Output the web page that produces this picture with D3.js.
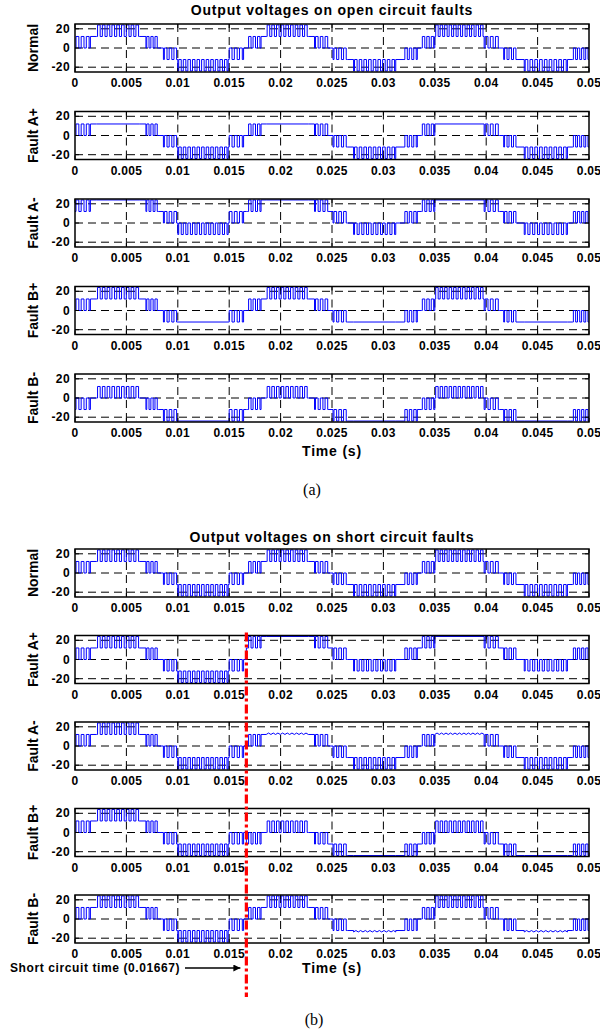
<!DOCTYPE html>
<html><head><meta charset="utf-8">
<script src="https://cdn.jsdelivr.net/npm/d3@7"></script>
<style>body{margin:0;background:#fff}</style>
</head><body>
<svg id="c" width="600" height="1034"></svg>
<script>
// ---------- data ----------
const timeTicks = [0,0.005,0.01,0.015,0.02,0.025,0.03,0.035,0.04,0.045,0.05];
const timeTickLabels = ["0","0.005","0.01","0.015","0.02","0.025","0.03","0.035","0.04","0.045","0.05"];
const voltTicks = [-20,0,20];
const voltTickLabels = ["-20","0","20"];
const voltDomain = [-25,25];
const timeDomain = [0,0.05];
// band boundaries (ms) shared by all traces
const bandEdgesMs = [0,1.5,2.1,6.3,6.9,8.1,8.6,10.0,14.9,16.4,16.67,16.8,18.1,18.6,22.7,23.3,24.7,25.1,26.5,27.1,31.2,32.0,33.3,33.7,35.0,39.8,41.3,41.7,43.0,43.7,47.9,48.4,50];
const pulsePeriodMs = 0.45;
// level code per band: "a" flat, "a/b" switching between a and b, "~a/b" small ripple
const normal   = ["0/12","12","12/24","12","0/12","0","-12/0","-24/-12","-12/0","0","0","0/12","12","12/24","12","0/12","0","-12/0","-12","-24/-12","-12","-12/0","0","0/12","12/24","0/12","0","-12/0","-12","-24/-12","-12","-12/0"];
const openAp   = ["0/12","12","12","12","0/12","0","-12/0","-24/-12","-12/0","0","0","0/12","12","12","12","0/12","0","-12/0","-12","-24/-12","-12","-12/0","0","0/12","12","0/12","0","-12/0","-12","-24/-12","-12","-12/0"];
const openAm   = ["12/24","24","24","24","12/24","12","0/12","-12/0","0/12","12","12","12/24","24","24","24","12/24","12","0/12","0","-12/0","0","0/12","12","12/24","24","12/24","12","0/12","0","-12/0","0","0/12"];
const openBp   = ["0/12","12","12/24","12","0/12","0","-12/0","-12","-12/0","0","0","0/12","12","12/24","12","0/12","0","-12/0","-12","-12","-12","-12/0","0","0/12","12/24","0/12","0","-12/0","-12","-12","-12","-12/0"];
const openBm   = ["-12/0","0","0/12","0","-12/0","-12","-24/-12","-24","-24/-12","-12","-12","-12/0","0","0/12","0","-12/0","-12","-24/-12","-24","-24","-24","-24/-12","-12","-12/0","0/12","-12/0","-12","-24/-12","-24","-24","-24","-24/-12"];
const shortAp  = ["0/12","12","12/24","12","0/12","0","-12/0","-24/-12","-12/0","0","12","12/24","24","24","24","12/24","12","0/12","0","-12/0","0","0/12","12","12/24","24","12/24","12","0/12","0","-12/0","0","0/12"];
const shortAm  = ["0/12","12","12/24","12","0/12","0","-12/0","-24/-12","-12/0","0","0","0/12","12","~12/13.5","12","0/12","0","-12/0","-12","-24/-12","-12","-12/0","0","0/12","~12/13.5","0/12","0","-12/0","-12","-24/-12","-12","-12/0"];
const shortBp  = ["0/12","12","12/24","12","0/12","0","-12/0","-24/-12","-12/0","0","-12","-12/0","0","0/12","0","-12/0","-12","-24/-12","-24","-24","-24","-24/-12","-12","-12/0","0/12","-12/0","-12","-24/-12","-24","-24","-24","-24/-12"];
const shortBm  = ["0/12","12","12/24","12","0/12","0","-12/0","-24/-12","-12/0","0","0","0/12","12","12/24","12","0/12","0","-12/0","-12","~-13.5/-12","-12","-12/0","0","0/12","12/24","0/12","0","-12/0","-12","~-13.5/-12","-12","-12/0"];
const rowLabels = ["Normal","Fault A+","Fault A-","Fault B+","Fault B-"];
const openTraces = [normal, openAp, openAm, openBp, openBm];
const shortTraces = [normal, shortAp, shortAm, shortBp, shortBm];
const faultTime = 0.01667;
const titles = ["Output voltages on open circuit faults","Output voltages on short circuit faults"];
const xTitle = "Time (s)";
const faultNote = "Short circuit time (0.01667)";
const captions = ["(a)","(b)"];

// ---------- drawing ----------
const svg = d3.select("#c");
const left = 75, right = 589;
const x = d3.scaleLinear().domain(timeDomain).range([left, right]);
const FONT = "'Liberation Sans', Arial, sans-serif";
const SERIF = "'Liberation Serif', 'Times New Roman', serif";

function buildPoints(codes){
  const pts = [];
  const stepTo = (t, v) => {
    if (!pts.length) { pts.push([t, v]); return; }
    const last = pts[pts.length-1];
    pts.push([t, last[1]]); pts.push([t, v]);
  };
  codes.forEach((code, i) => {
    const t0 = bandEdgesMs[i], t1 = bandEdgesMs[i+1];
    const ripple = code[0] === "~";
    const parts = code.replace("~","").split("/").map(Number);
    if (parts.length === 1) { stepTo(t0, parts[0]); return; }
    const [lo, hi] = parts;
    const n = Math.max(1, Math.round((t1 - t0) / pulsePeriodMs));
    const p = (t1 - t0) / n;
    if (ripple) {
      stepTo(t0, lo);
      for (let k = 0; k < n; k++) {
        pts.push([t0 + (k + 0.5) * p, hi]);
        pts.push([t0 + (k + 1) * p, lo]);
      }
    } else {
      stepTo(t0, lo);
      for (let k = 0; k < n; k++) {
        stepTo(t0 + (k + 0.2) * p, hi);
        stepTo(t0 + (k + 0.75) * p, lo);
      }
    }
  });
  const last = pts[pts.length-1];
  pts.push([bandEdgesMs[bandEdgesMs.length-1], last[1]]);
  return pts.map(d => [d[0] / 1000, d[1]]);
}

let clipId = 0;
function drawPanel(top, boxH, label, codes){
  const y = d3.scaleLinear().domain(voltDomain).range([top + boxH, top]);
  const g = svg.append("g");
  g.selectAll(".vg").data(timeTicks.slice(1, -1)).enter().append("line")
    .attr("x1", d => x(d)).attr("x2", d => x(d)).attr("y1", top).attr("y2", top + boxH)
    .attr("stroke", "#000").attr("stroke-width", 1).attr("stroke-dasharray", "8,5");
  g.selectAll(".hg").data(voltTicks).enter().append("line")
    .attr("x1", left).attr("x2", right).attr("y1", d => y(d)).attr("y2", d => y(d))
    .attr("stroke", "#000").attr("stroke-width", 1).attr("stroke-dasharray", "8,5");
  const id = "clip" + (clipId++);
  svg.append("clipPath").attr("id", id).append("rect")
    .attr("x", left).attr("y", top).attr("width", right - left).attr("height", boxH);
  const line = d3.line().x(d => x(d[0])).y(d => y(d[1]));
  g.append("path").datum(buildPoints(codes)).attr("d", line)
    .attr("clip-path", `url(#${id})`)
    .attr("fill", "none").attr("stroke", "#0000ff").attr("stroke-width", 1);
  g.append("rect").attr("x", left).attr("y", top).attr("width", right - left).attr("height", boxH)
    .attr("fill", "none").attr("stroke", "#000").attr("stroke-width", 1.5);
  g.selectAll(".xt").data(timeTicks).enter().append("line")
    .attr("x1", d => x(d)).attr("x2", d => x(d)).attr("y1", top + boxH).attr("y2", top + boxH - 4)
    .attr("stroke", "#000");
  g.selectAll(".xt2").data(timeTicks).enter().append("line")
    .attr("x1", d => x(d)).attr("x2", d => x(d)).attr("y1", top).attr("y2", top + 4)
    .attr("stroke", "#000");
  g.selectAll(".yt").data(voltTicks).enter().append("line")
    .attr("x1", left).attr("x2", left + 4).attr("y1", d => y(d)).attr("y2", d => y(d)).attr("stroke", "#000");
  g.selectAll(".yt2").data(voltTicks).enter().append("line")
    .attr("x1", right).attr("x2", right - 4).attr("y1", d => y(d)).attr("y2", d => y(d)).attr("stroke", "#000");
  g.selectAll(".xl").data(timeTicks).enter().append("text")
    .attr("x", d => x(d)).attr("y", top + boxH + 15).attr("text-anchor", "middle")
    .attr("font-family", FONT).attr("font-weight", "bold").attr("font-size", 12)
    .attr("letter-spacing", 0.3)
    .text((d, i) => timeTickLabels[i]);
  g.selectAll(".yl").data(voltTicks).enter().append("text")
    .attr("x", left - 5).attr("y", d => y(d) + 4).attr("text-anchor", "end")
    .attr("font-family", FONT).attr("font-weight", "bold").attr("font-size", 12)
    .attr("letter-spacing", 0.4)
    .text((d, i) => voltTickLabels[i]);
  g.append("text").attr("transform", `translate(38,${top + boxH / 2}) rotate(-90)`)
    .attr("text-anchor", "middle").attr("font-family", FONT).attr("font-weight", "bold").attr("font-size", 14)
    .text(label);
}

function drawFigure(titleY, firstTop, boxH, step, traces, title, timeY){
  svg.append("text").attr("x", (left + right) / 2).attr("y", titleY).attr("text-anchor", "middle")
    .attr("font-family", FONT).attr("font-weight", "bold").attr("font-size", 14)
    .attr("letter-spacing", 0.8).text(title);
  traces.forEach((codes, i) => drawPanel(firstTop + i * step, boxH, rowLabels[i], codes));
  svg.append("text").attr("x", (left + right) / 2).attr("y", timeY).attr("text-anchor", "middle")
    .attr("font-family", FONT).attr("font-weight", "bold").attr("font-size", 14)
    .attr("letter-spacing", 0.8).text(xTitle);
}

// (a)
drawFigure(15, 24, 48, 87.5, openTraces, titles[0], 456);
svg.append("text").attr("x", 312).attr("y", 495).attr("text-anchor", "middle")
  .attr("font-family", SERIF).attr("font-size", 16).text(captions[0]);

// (b)
const bTop = 549, bStep = 86.5, bH = 48;
drawFigure(542, bTop, bH, bStep, shortTraces, titles[1], 973);
svg.append("text").attr("x", 314).attr("y", 1025).attr("text-anchor", "middle")
  .attr("font-family", SERIF).attr("font-size", 16).text(captions[1]);

// short-circuit marker
svg.append("line").attr("x1", x(faultTime)).attr("x2", x(faultTime))
  .attr("y1", bTop + bStep - 3).attr("y2", 997)
  .attr("stroke", "#ff0000").attr("stroke-width", 3.2).attr("stroke-dasharray", "9,3,3,3");
svg.append("text").attr("x", 10).attr("y", 972).attr("font-family", FONT).attr("font-weight", "bold")
  .attr("font-size", 12).attr("letter-spacing", 0.6).text(faultNote);
svg.append("defs").append("marker").attr("id", "arr").attr("viewBox", "0 0 10 10")
  .attr("refX", 10).attr("refY", 5).attr("markerWidth", 13).attr("markerHeight", 7)
  .attr("markerUnits", "userSpaceOnUse").attr("orient", "auto")
  .append("path").attr("d", "M0,0L10,5L0,10Z").attr("fill", "#000");
svg.append("line").attr("x1", 185).attr("x2", x(faultTime) - 6).attr("y1", 968).attr("y2", 968)
  .attr("stroke", "#000").attr("stroke-width", 1.5).attr("marker-end", "url(#arr)");
</script>
</body></html>
